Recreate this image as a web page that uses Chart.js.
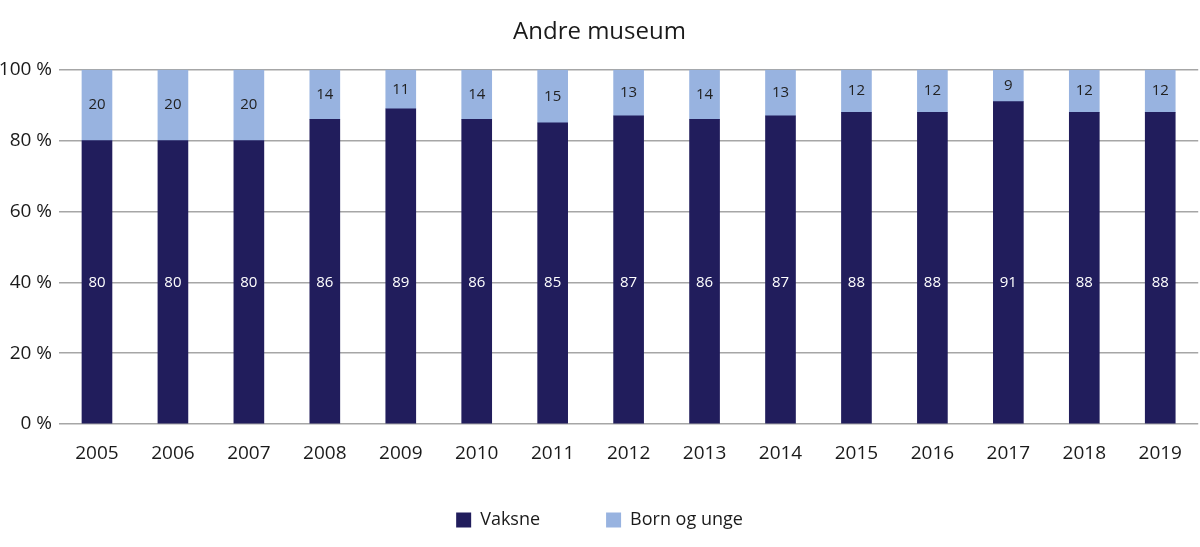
<!DOCTYPE html>
<html>
<head>
<meta charset="utf-8">
<script src="https://cdn.jsdelivr.net/npm/chart.js@4/dist/chart.umd.min.js"></script>
<style>
html,body{margin:0;padding:0;background:#fff;}
#wrap{width:1200px;height:547px;position:relative;}
</style>
</head>
<body>
<div id="wrap"><canvas id="c" width="1200" height="547"></canvas></div>
<script>
const years = ["2005","2006","2007","2008","2009","2010","2011","2012","2013","2014","2015","2016","2017","2018","2019"];
const vaksne = [80,80,80,86,89,86,85,87,86,87,88,88,91,88,88];
const bornOgUnge = [20,20,20,14,11,14,15,13,14,13,12,12,9,12,12];
const yTicks = [0,20,40,60,80,100];
const FONT = "'Open Sans', 'DejaVu Sans', sans-serif";

const labelPlugin = {
  id: 'barLabels',
  afterDatasetsDraw(chart) {
    const ctx = chart.ctx;
    const y = chart.scales.y;
    ctx.save();
    ctx.font = "15px " + FONT;
    ctx.textAlign = 'center';
    ctx.textBaseline = 'middle';
    chart.data.datasets.forEach((ds, di) => {
      const meta = chart.getDatasetMeta(di);
      meta.data.forEach((bar, i) => {
        const v = ds.data[i];
        let py;
        if (di === 0) {
          py = y.getPixelForValue(40);
          ctx.fillStyle = '#ffffff';
        } else {
          py = (bar.y + bar.base) / 2;
          ctx.fillStyle = '#222222';
        }
        ctx.fillText(String(v), bar.x, py);
      });
    });
    ctx.restore();
  }
};

new Chart(document.getElementById('c'), {
  type: 'bar',
  data: {
    labels: years,
    datasets: [
      { label: 'Vaksne', data: vaksne, backgroundColor: '#211d5c', barThickness: 30 },
      { label: 'Born og unge', data: bornOgUnge, backgroundColor: '#98b3e0', barThickness: 30 }
    ]
  },
  options: {
    responsive: false,
    animation: false,
    layout: { padding: { left: 0, right: 1, top: 0, bottom: 8 } },
    plugins: {
      title: {
        display: true,
        text: 'Andre museum',
        color: '#1a1a1a',
        font: { family: FONT, size: 24, weight: 'normal' },
        padding: { top: 18, bottom: 23 }
      },
      legend: {
        position: 'bottom',
        labels: {
          color: '#1a1a1a',
          font: { family: FONT, size: 18 },
          boxWidth: 15,
          boxHeight: 15,
          padding: 66
        }
      },
      tooltip: { enabled: false }
    },
    scales: {
      x: {
        stacked: true,
        grid: { display: false, drawTicks: false },
        border: { display: false },
        afterFit(axis) {
          axis.height = 21;
          axis._computeLabelArea = () => undefined;
        },
        ticks: { color: '#1a1a1a', font: { family: FONT, size: 19 }, padding: 18 }
      },
      y: {
        stacked: true,
        min: 0, max: 100,
        afterBuildTicks(axis) { axis.ticks = yTicks.map(v => ({ value: v })); },
        afterFit(axis) { axis.width = 59; },
        grid: { color: '#a6a6a6', lineWidth: 1.5, drawTicks: false },
        border: { display: false },
        ticks: {
          color: '#1a1a1a',
          font: { family: FONT, size: 19 },
          padding: 7,
          callback: v => v + ' %'
        }
      }
    }
  },
  plugins: [labelPlugin]
});
</script>
</body>
</html>
